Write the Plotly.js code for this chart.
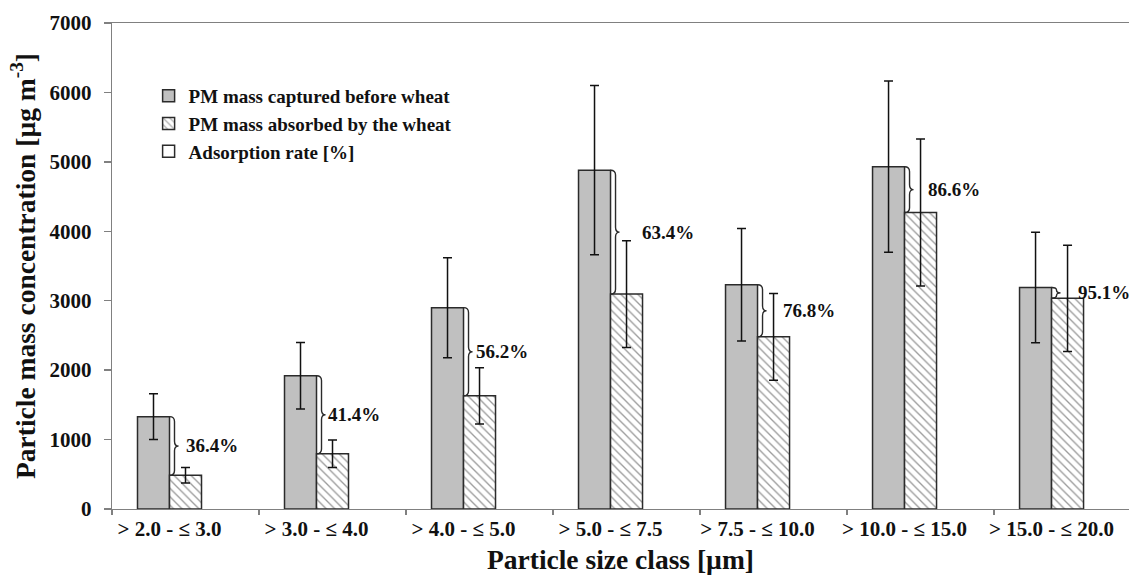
<!DOCTYPE html>
<html>
<head>
<meta charset="utf-8">
<script src="https://cdn.plot.ly/plotly-3.0.1.min.js"></script>
<style>
  html, body { margin: 0; padding: 0; background: #fff; }
  #chart { width: 1129px; height: 575px; }
</style>
</head>
<body>
<div id="chart"></div>
<script>
// Particle size classes (µm)
const categories = [
  '> 2.0 - \u2264 3.0',
  '> 3.0 - \u2264 4.0',
  '> 4.0 - \u2264 5.0',
  '> 5.0 - \u2264 7.5',
  '> 7.5 - \u2264 10.0',
  '> 10.0 - \u2264 15.0',
  '> 15.0 - \u2264 20.0'
];

// PM mass captured before the wheat canopy [µg m-3] and its spread
const capturedBefore = [1330, 1920, 2900, 4880, 3230, 4930, 3190];
const capturedErr    = [330, 478, 720, 1218, 810, 1233, 797];

// PM mass absorbed by the wheat [µg m-3] and its spread
const absorbedByWheat = [485, 795, 1630, 3095, 2480, 4270, 3035];
const absorbedErr     = [112, 198, 405, 770, 625, 1059, 765];

// Adsorption rate [%]
const adsorptionRate = [36.4, 41.4, 56.2, 63.4, 76.8, 86.6, 95.1];

// ---- drawing setup ----
const FONT = 'Liberation Serif, Times New Roman, serif';
const BAR_W = 0.2177;               // width of one bar in category units
const xs = categories.map((c, i) => i);
const joins = xs.map(i => i - BAR_W / 2);   // where the two bars meet
const boundaries = [-0.5].concat(xs.map(i => i + 0.5));
const labelShift = [14, 9, 10, 29, 23, 21, 24];   // px from the bar join to the % label

const traces = [
  {
    type: 'bar', name: 'PM mass captured before wheat',
    x: xs, y: capturedBefore,
    width: BAR_W, offset: -1.5 * BAR_W,
    marker: { color: '#c0c0c0', line: { color: '#2b2b2b', width: 1.5 } },
    error_y: { type: 'data', array: capturedErr, visible: true,
               color: '#111', thickness: 1.5, width: 4.5 },
    hoverinfo: 'skip'
  },
  {
    type: 'bar', name: 'PM mass absorbed by the wheat',
    x: xs, y: absorbedByWheat,
    width: BAR_W, offset: -0.5 * BAR_W,
    marker: {
      color: '#ffffff',
      line: { color: '#2b2b2b', width: 1.5 },
      pattern: { shape: '\\', fgcolor: '#9a9a9a', bgcolor: '#ffffff', size: 6, solidity: 0.22 }
    },
    error_y: { type: 'data', array: absorbedErr, visible: true,
               color: '#111', thickness: 1.5, width: 4.5 },
    hoverinfo: 'skip'
  },
  {
    type: 'bar', name: 'Adsorption rate [%]',
    x: [null], y: [null],
    marker: { color: '#ffffff', line: { color: '#2b2b2b', width: 1.5 } },
    hoverinfo: 'skip'
  }
];

// Curly braces spanning the gap between the two bars, with the rate beside them
const shapes = [];
const annotations = [];
xs.forEach((i, k) => {
  const top = capturedBefore[k];
  const bot = absorbedByWheat[k];
  const mid = (top + bot) / 2;
  const r = Math.min(70, (top - bot) / 4);
  shapes.push({
    type: 'path', xref: 'x', yref: 'y',
    xsizemode: 'pixel', xanchor: joins[k],
    path: `M0,${top} Q5,${top} 5,${top - r} L5,${mid + r} Q5,${mid} 9,${mid} ` +
          `Q5,${mid} 5,${mid - r} L5,${bot + r} Q5,${bot} 0,${bot}`,
    line: { color: '#2b2b2b', width: 1.4 }
  });
  annotations.push({
    x: joins[k], y: mid, xref: 'x', yref: 'y',
    xanchor: 'left', yanchor: 'middle', xshift: labelShift[k],
    text: adsorptionRate[k].toFixed(1) + '%', showarrow: false,
    font: { family: FONT, size: 19, color: '#111', weight: 700 }
  });
});

const layout = {
  width: 1129, height: 575,
  margin: { l: 112, r: 0, t: 23, b: 66, pad: 0 },
  paper_bgcolor: '#ffffff', plot_bgcolor: '#ffffff',
  showlegend: true,
  legend: {
    x: 0.036, y: 0.889, xanchor: 'left', yanchor: 'top',
    bgcolor: 'rgba(0,0,0,0)', itemwidth: 30, traceorder: 'normal',
    font: { family: FONT, size: 19, color: '#111', weight: 700 }
  },
  xaxis: {
    type: 'linear', range: [-0.5, 6.418],
    tickmode: 'array', tickvals: joins, ticktext: categories,
    ticks: '', showgrid: false, zeroline: false,
    showline: true, linecolor: '#808080', linewidth: 1.3, mirror: true,
    tickfont: { family: FONT, size: 21, color: '#111', weight: 700 },
    ticklabelstandoff: 0,
    minor: { tickmode: 'array', tickvals: boundaries, ticks: 'outside',
             ticklen: 5, tickcolor: '#808080', tickwidth: 1.3, showgrid: false },
    title: { text: 'Particle size class [\u00b5m]', standoff: 12,
             font: { family: FONT, size: 27.5, color: '#111', weight: 700 } }
  },
  yaxis: {
    range: [0, 7000], tickmode: 'array',
    tickvals: [0, 1000, 2000, 3000, 4000, 5000, 6000, 7000],
    ticks: 'outside', ticklen: 7, tickcolor: '#808080', tickwidth: 1.3,
    showgrid: false, zeroline: false,
    showline: true, linecolor: '#808080', linewidth: 1.3,
    tickfont: { family: FONT, size: 21, color: '#111', weight: 700 },
    ticklabelstandoff: 8,
    title: { text: 'Particle mass concentration [\u00b5g m<sup>-3</sup>]', standoff: 6,
             font: { family: FONT, size: 27.5, color: '#111', weight: 700 } }
  },
  shapes: shapes,
  annotations: annotations
};

Plotly.newPlot('chart', traces, layout, { staticPlot: true, displayModeBar: false });
</script>
</body>
</html>
